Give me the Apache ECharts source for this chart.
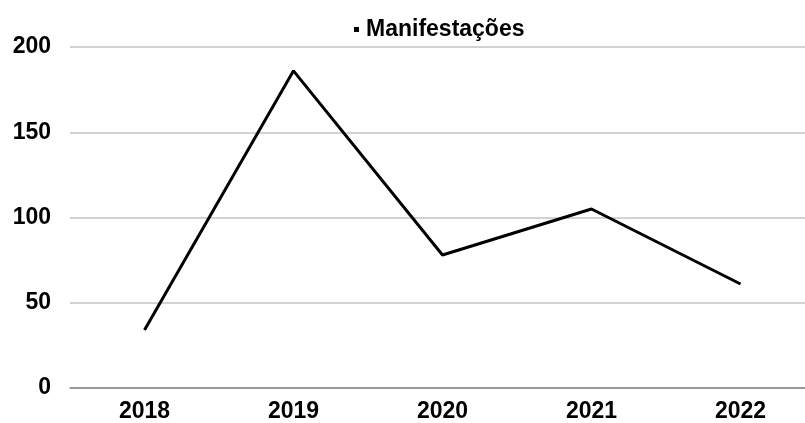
<!DOCTYPE html>
<html><head><meta charset="utf-8">
<script src="https://cdn.jsdelivr.net/npm/echarts@6/dist/echarts.min.js"></script>
<style>html,body{margin:0;padding:0;background:#fff}#c{width:805px;height:423px}</style>
</head><body><div id="c"></div>
<script>
var categories = ['2018','2019','2020','2021','2022'];
var values = [34, 186, 78, 105, 61];
var yTicks = [0, 50, 100, 150, 200];
var seriesName = 'Manifestações';
var chart = echarts.init(document.getElementById('c'));
chart.setOption({
  animation: false,
  legend: {
    top: 13, left: 349, itemWidth: 5, itemHeight: 5,
    icon: 'rect',
    data: [{name: seriesName, itemStyle: {color: '#000'}}],
    textStyle: {fontFamily: 'Liberation Sans', fontWeight: 'bold', fontSize: 23, color: '#000', padding: [0,0,0,2]}
  },
  grid: {left: 70, width: 745, top: 47, bottom: 35, containLabel: false, outerBoundsMode: 'none'},
  xAxis: {
    type: 'category', data: categories, boundaryGap: true,
    axisLine: {lineStyle: {color: '#878787', width: 1.5}},
    axisTick: {show: false},
    axisLabel: {fontFamily: 'Liberation Sans', fontWeight: 'bold', fontSize: 23, color: '#000', margin: 12}
  },
  yAxis: {
    type: 'value', min: yTicks[0], max: yTicks[yTicks.length-1], interval: 50,
    axisLine: {show: false}, axisTick: {show: false},
    splitLine: {lineStyle: {color: '#c3c3c3', width: 1.5}},
    axisLabel: {fontFamily: 'Liberation Sans', fontWeight: 'bold', fontSize: 23, color: '#000', margin: 19}
  },
  series: [{
    name: seriesName, type: 'line', data: values, showSymbol: false, symbol: 'none',
    lineStyle: {color: '#000', width: 3}, itemStyle: {color: '#000'}
  }]
});
</script></body></html>
